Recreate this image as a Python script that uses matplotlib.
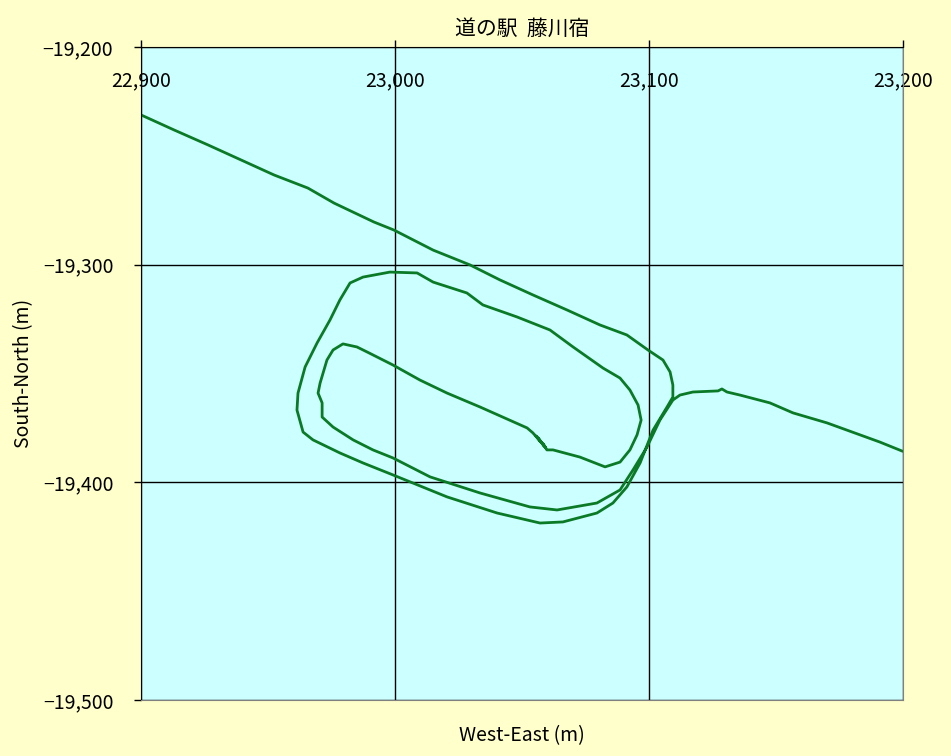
import matplotlib.pyplot as plt
from matplotlib.ticker import FuncFormatter

plt.rcParams['font.family'] = ['Noto Sans CJK JP', 'DejaVu Sans']

# GPS track, metres (west-east, south-north)
east = [
    # road coming in from the north-west
    22900, 22913, 22926.4, 22939.4, 22952.4, 22965.7, 22976, 22991.7, 22999.6,
    23015, 23029.5, 23041.3, 23054.3, 23067.7, 23080.7, 23091.3, 23099.6,
    23105.5, 23108.3, 23109.4, 23109.4,
    # outer loop
    23107.1, 23101.6, 23096.5, 23091.3, 23085.8, 23079.5, 23066.1, 23057.1,
    23040.2, 23020.5, 22999.2, 22987.4, 22978.3, 22967.7, 22963.8, 22961.4,
    22961.8, 22964.6, 22969.3, 22974.4, 22978.3, 22982.3, 22987.4, 22998,
    23008.7, 23015, 23028.3, 23034.6, 23048, 23061, 23070.1, 23081.9,
    23088.6, 23092.5, 23095.7, 23096.9, 23095.3, 23092.5, 23088.6, 23082.7,
    23072.8, 23062.2,
    # parking
    23059.8, 23058.3, 23059.4, 23056.3, 23058.7, 23055.5, 23057.5, 23054.3,
    23052,
    # inner loop
    23033.5, 23020.5, 23009.8, 22999.2, 22989, 22985, 22979.5, 22975.6,
    22973.2, 22970.5, 22969.7, 22971.3, 22971.3, 22975.6, 22983.5, 22991.3,
    22999.2, 23013.8, 23033.5, 23053.1, 23063.8, 23079.5, 23088.6, 23093.7,
    23099.2, 23104.3, 23109.4,
    # road leaving to the east
    23112.2, 23117.3, 23127.2, 23128.7, 23130.7, 23135.8, 23147.6, 23156.7,
    23170.1, 23183.1, 23190.9, 23199.6,
]
north = [
    -19231.2, -19238.1, -19245, -19251.9, -19258.8, -19264.8, -19271.7,
    -19280.4, -19284.1, -19293.3, -19300.1, -19307, -19313.9, -19320.8,
    -19327.7, -19332.3, -19339.2, -19343.8, -19349.3, -19355.3, -19360.8,
    -19365.4, -19376, -19391.1, -19402.1, -19409.5, -19414.1, -19418.2,
    -19418.7, -19414.1, -19406.7, -19396.6, -19391.1, -19386.5, -19380.5,
    -19376.9, -19366.8, -19359, -19347, -19336, -19325.4, -19316.2, -19308.4,
    -19305.7, -19303.4, -19303.8, -19308, -19313, -19318.5, -19324, -19330,
    -19337.8, -19347.5, -19352.1, -19357.6, -19364.5, -19371.4, -19378.2,
    -19385.1, -19390.7, -19392.9, -19388.4, -19385.1,
    -19385.1, -19382.4, -19384.2, -19379.6, -19383.3, -19378.7, -19381.5,
    -19377.3, -19375,
    -19365.4, -19359, -19353, -19346.1, -19340.1, -19337.8, -19336.4,
    -19339.2, -19343.8, -19354.4, -19359, -19363.5, -19370, -19374.6,
    -19380.5, -19385.1, -19388.8, -19397.5, -19404.9, -19411.3, -19412.7,
    -19409.5, -19403.5, -19394.3, -19383.8, -19371.4, -19362.2,
    -19359.9, -19358.5, -19358, -19357.1, -19358.5, -19359.9, -19363.5,
    -19368.1, -19372.7, -19378.2, -19381.5, -19385.6,
]

x_ticks = [22900, 23000, 23100, 23200]
y_ticks = [-19500, -19400, -19300, -19200]

fig = plt.figure(figsize=(9.51, 7.56), dpi=100, facecolor='#FFFFCC')
ax = fig.add_axes([0.1483, 0.0741, 0.8012, 0.8637])
ax.set_facecolor('#CCFFFF')

ax.plot(east, north, color='#0B7A26', linewidth=2.0, solid_joinstyle='round')

ax.set_xlim(22900, 23200)
ax.set_ylim(-19500, -19200)
ax.set_xticks(x_ticks)
ax.set_yticks(y_ticks)
fmt = FuncFormatter(lambda v, p: f'{v:,.0f}'.replace('-', '\u2212'))
ax.xaxis.set_major_formatter(fmt)
ax.yaxis.set_major_formatter(fmt)

ax.xaxis.set_ticks_position('top')
ax.tick_params(axis='x', direction='out', length=5, width=1, labelsize=14,
               pad=-37, top=True, bottom=False, labeltop=True, labelbottom=False)
ax.tick_params(axis='y', direction='out', length=5, width=1, labelsize=14, pad=15)

ax.grid(True, color='black', linewidth=1)
ax.spines['top'].set_color('black')
ax.spines['left'].set_color('black')
ax.spines['right'].set_color('#808080')
ax.spines['bottom'].set_color('#808080')

ax.set_title('道の駅  藤川宿', fontsize=15, pad=9)
ax.xaxis.set_label_position('bottom')
ax.set_xlabel('West-East (m)', fontsize=14, labelpad=18)
ax.set_ylabel('South-North (m)', fontsize=14, labelpad=6)

fig.savefig('out.png', dpi=100, facecolor=fig.get_facecolor())
